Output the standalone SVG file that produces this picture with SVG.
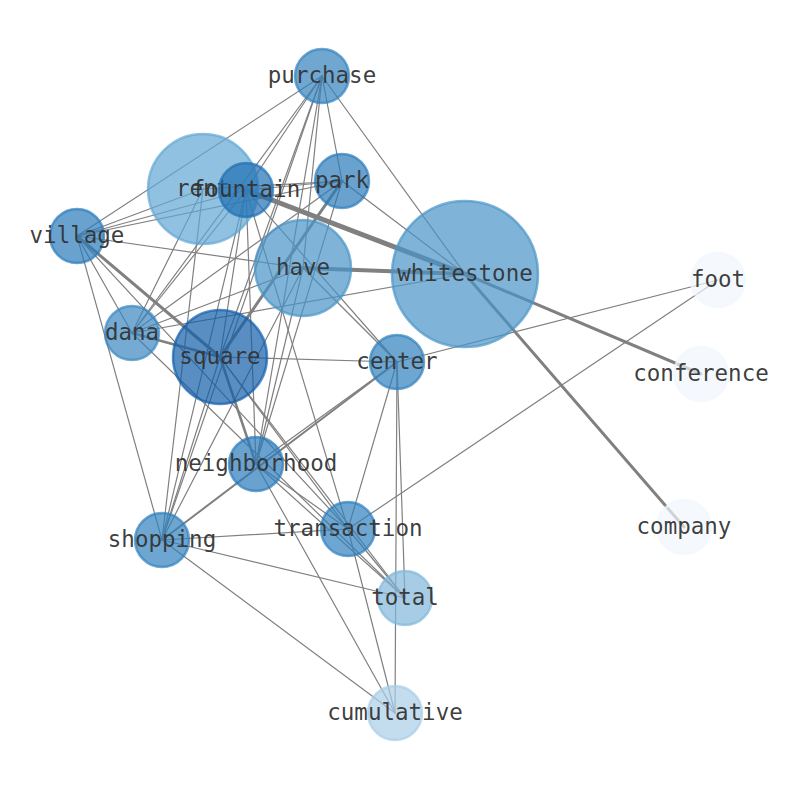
<svg xmlns="http://www.w3.org/2000/svg" width="794" height="790" viewBox="0 0 794 790">
<style>
.e{stroke:#808080;stroke-width:1.2;fill:none;stroke-linecap:round}
.n circle{fill-opacity:0.7;stroke-opacity:0.7;stroke-width:2.5}
.n text{font-family:"DejaVu Sans Mono","Liberation Mono",monospace;font-size:22.5px;fill:#333333;fill-opacity:0.95;text-anchor:middle;dominant-baseline:central}
</style>
<rect width="794" height="790" fill="#ffffff"/>
<g id="edges">
<line class="e" x1="322" y1="76" x2="77" y2="236"/>
<line class="e" x1="322" y1="76" x2="246" y2="190"/>
<line class="e" x1="322" y1="76" x2="132" y2="333"/>
<line class="e" x1="322" y1="76" x2="220" y2="357"/>
<line class="e" x1="322" y1="76" x2="256" y2="464"/>
<line class="e" x1="322" y1="76" x2="342" y2="181"/>
<line class="e" x1="322" y1="76" x2="465" y2="274"/>
<line class="e" x1="322" y1="76" x2="303" y2="268"/>
<line class="e" x1="322" y1="76" x2="162" y2="540"/>
<line class="e" x1="203" y1="189" x2="77" y2="236"/>
<line class="e" x1="203" y1="189" x2="342" y2="181"/>
<line class="e" x1="203" y1="189" x2="132" y2="333"/>
<line class="e" x1="203" y1="189" x2="162" y2="540"/>
<line class="e" x1="246" y1="190" x2="77" y2="236"/>
<line class="e" x1="246" y1="190" x2="342" y2="181"/>
<line class="e" x1="246" y1="190" x2="220" y2="357"/>
<line class="e" x1="246" y1="190" x2="132" y2="333"/>
<line class="e" x1="246" y1="190" x2="256" y2="464"/>
<line class="e" x1="246" y1="190" x2="348" y2="529"/>
<line class="e" x1="246" y1="190" x2="397" y2="362"/>
<line class="e" x1="246" y1="190" x2="162" y2="540"/>
<line class="e" x1="342" y1="181" x2="77" y2="236"/>
<line class="e" x1="342" y1="181" x2="132" y2="333"/>
<line class="e" x1="342" y1="181" x2="256" y2="464"/>
<line class="e" x1="342" y1="181" x2="465" y2="274"/>
<line class="e" x1="77" y1="236" x2="303" y2="268"/>
<line class="e" x1="77" y1="236" x2="132" y2="333"/>
<line class="e" x1="77" y1="236" x2="162" y2="540"/>
<line class="e" x1="77" y1="236" x2="348" y2="529"/>
<line class="e" x1="132" y1="333" x2="303" y2="268"/>
<line class="e" x1="132" y1="333" x2="465" y2="274"/>
<line class="e" x1="132" y1="333" x2="405" y2="598"/>
<line class="e" x1="220" y1="357" x2="397" y2="362"/>
<line class="e" x1="220" y1="357" x2="348" y2="529"/>
<line class="e" x1="220" y1="357" x2="405" y2="598"/>
<line class="e" x1="220" y1="357" x2="162" y2="540"/>
<line class="e" x1="303" y1="268" x2="397" y2="362"/>
<line class="e" x1="303" y1="268" x2="256" y2="464"/>
<line class="e" x1="303" y1="268" x2="162" y2="540"/>
<line class="e" x1="397" y1="362" x2="256" y2="464"/>
<line class="e" x1="397" y1="362" x2="348" y2="529"/>
<line class="e" x1="397" y1="362" x2="405" y2="598"/>
<line class="e" x1="397" y1="362" x2="395" y2="713"/>
<line class="e" x1="397" y1="362" x2="718" y2="280"/>
<line class="e" x1="256" y1="464" x2="348" y2="529"/>
<line class="e" x1="256" y1="464" x2="405" y2="598"/>
<line class="e" x1="256" y1="464" x2="395" y2="713"/>
<line class="e" x1="162" y1="540" x2="348" y2="529"/>
<line class="e" x1="162" y1="540" x2="405" y2="598"/>
<line class="e" x1="162" y1="540" x2="395" y2="713"/>
<line class="e" x1="348" y1="529" x2="405" y2="598"/>
<line class="e" x1="348" y1="529" x2="395" y2="713"/>
<line class="e" x1="348" y1="529" x2="718" y2="280"/>
<line class="e" x1="397" y1="362" x2="162" y2="540" style="stroke-width:2"/>
<line class="e" x1="132" y1="333" x2="220" y2="357" style="stroke-width:2.5"/>
<line class="e" x1="220" y1="357" x2="256" y2="464" style="stroke-width:2.5"/>
<line class="e" x1="77" y1="236" x2="220" y2="357" style="stroke-width:3"/>
<line class="e" x1="342" y1="181" x2="220" y2="357" style="stroke-width:3"/>
<line class="e" x1="465" y1="274" x2="701" y2="374" style="stroke-width:3"/>
<line class="e" x1="465" y1="274" x2="684" y2="527" style="stroke-width:3"/>
<line class="e" x1="303" y1="268" x2="465" y2="274" style="stroke-width:4"/>
<line class="e" x1="246" y1="190" x2="465" y2="274" style="stroke-width:5"/>
</g>
<g id="node-purchase" class="n"><circle cx="322" cy="76" r="27" fill="#3282be" stroke="#3282be"/><text x="322" y="74.5">purchase</text></g>
<g id="node-rent" class="n"><circle cx="203" cy="189" r="55" fill="#62a7d4" stroke="#62a7d4"/><text x="203" y="187.5">rent</text></g>
<g id="node-fountain" class="n"><circle cx="246" cy="190" r="27" fill="#1f6fb3" stroke="#1f6fb3"/><text x="246" y="188.5">fountain</text></g>
<g id="node-park" class="n"><circle cx="342" cy="181" r="27" fill="#2a7aba" stroke="#2a7aba"/><text x="342" y="179.5">park</text></g>
<g id="node-village" class="n"><circle cx="77" cy="236" r="27" fill="#2a7aba" stroke="#2a7aba"/><text x="77" y="234.5">village</text></g>
<g id="node-have" class="n"><circle cx="303" cy="268" r="48" fill="#4994c7" stroke="#4994c7"/><text x="303" y="266.5">have</text></g>
<g id="node-whitestone" class="n"><circle cx="465" cy="274" r="73" fill="#4994c7" stroke="#4994c7"/><text x="465" y="272.5">whitestone</text></g>
<g id="node-foot" class="n"><circle cx="718" cy="280" r="27" fill="#f1f6fd" stroke="#f1f6fd"/><text x="718" y="278.5">foot</text></g>
<g id="node-conference" class="n"><circle cx="701" cy="374" r="27" fill="#f1f6fd" stroke="#f1f6fd"/><text x="701" y="372.5">conference</text></g>
<g id="node-dana" class="n"><circle cx="132" cy="333" r="27" fill="#3a87c1" stroke="#3a87c1"/><text x="132" y="331.5">dana</text></g>
<g id="node-square" class="n"><circle cx="220" cy="357" r="47" fill="#135ea9" stroke="#135ea9"/><text x="220" y="355.5">square</text></g>
<g id="node-center" class="n"><circle cx="397" cy="362" r="27" fill="#2f80bd" stroke="#2f80bd"/><text x="397" y="360.5">center</text></g>
<g id="node-neighborhood" class="n"><circle cx="256" cy="464" r="27" fill="#2a7aba" stroke="#2a7aba"/><text x="256" y="462.5">neighborhood</text></g>
<g id="node-transaction" class="n"><circle cx="348" cy="529" r="27" fill="#2f80bd" stroke="#2f80bd"/><text x="348" y="527.5">transaction</text></g>
<g id="node-shopping" class="n"><circle cx="162" cy="540" r="27" fill="#2f80bd" stroke="#2f80bd"/><text x="162" y="538.5">shopping</text></g>
<g id="node-company" class="n"><circle cx="684" cy="527" r="27" fill="#f1f6fd" stroke="#f1f6fd"/><text x="684" y="525.5">company</text></g>
<g id="node-total" class="n"><circle cx="405" cy="598" r="27" fill="#80b8da" stroke="#80b8da"/><text x="405" y="596.5">total</text></g>
<g id="node-cumulative" class="n"><circle cx="395" cy="713" r="27" fill="#a9cde7" stroke="#a9cde7"/><text x="395" y="711.5">cumulative</text></g>
</svg>
